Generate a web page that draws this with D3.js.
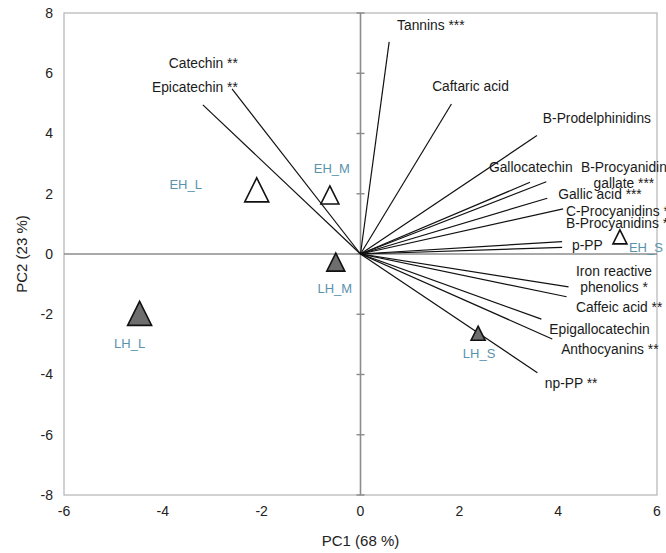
<!DOCTYPE html>
<html><head><meta charset="utf-8">
<script src="https://cdn.jsdelivr.net/npm/d3@7"></script>
<style>body{margin:0;background:#fff}svg{display:block}text{font-family:"Liberation Sans",Arial,sans-serif}</style>
</head><body><svg id="c" width="666" height="553"></svg>
<script>
// Variable loadings (PC1, PC2)
const varNames = ["Catechin **","Epicatechin **","Tannins ***","Caftaric acid","B-Prodelphinidins","Gallocatechin","B-Procyanidin gallate ***","Gallic acid ***","C-Procyanidins *","B-Procyanidins *","p-PP","Iron reactive phenolics *","Caffeic acid **","Epigallocatechin","Anthocyanins **","np-PP **"];
const varPC1 = [-2.60,-3.19,0.58,1.84,3.57,3.43,3.76,3.78,4.10,4.08,4.08,4.21,4.17,3.66,3.88,3.58];
const varPC2 = [5.48,4.95,7.04,4.98,3.93,2.38,2.40,1.85,1.50,0.41,0.22,-1.09,-1.42,-2.16,-2.82,-3.94];
// Sample scores
const sampleNames = ["EH_L","EH_M","EH_S","LH_L","LH_M","LH_S"];
const samplePC1 = [-2.10,-0.62,5.25,-4.47,-0.50,2.38];
const samplePC2 = [2.13,1.96,0.57,-1.97,-0.27,-2.63];
const xTicks = [-6,-4,-2,0,2,4,6];
const yTicks = [-8,-6,-4,-2,0,2,4,6,8];

// layout (label placement, in data units)
const varLabelLines = [["Catechin **"],["Epicatechin **"],["Tannins ***"],["Caftaric acid"],["B-Prodelphinidins"],["Gallocatechin"],["B-Procyanidin","gallate ***"],["Gallic acid ***"],["C-Procyanidins *"],["B-Procyanidins *"],["p-PP"],["Iron reactive","phenolics *"],["Caffeic acid **"],["Epigallocatechin"],["Anthocyanins **"],["np-PP **"]];
const varLabelPos = [[-3.88,6.35,"start"],[-4.22,5.55,"start"],[0.74,7.61,"start"],[1.45,5.58,"start"],[3.69,4.52,"start"],[2.60,2.89,"start"],[5.33,2.89,"middle"],[4.00,1.99,"start"],[4.16,1.42,"start"],[4.16,1.01,"start"],[4.28,0.30,"start"],[5.13,-0.56,"middle"],[4.36,-1.76,"start"],[3.82,-2.49,"start"],[4.06,-3.16,"start"],[3.73,-4.29,"start"]];
const sampleLabelOffset = {EH_L:[-71,-5],EH_M:[2,-27],EH_S:[26,11],LH_L:[-10,30],LH_M:[-1,26],LH_S:[1,20]};
const sizeBySuffix = {L:24,M:18,S:14};

const svg = d3.select("#c");
const m = {l:64, r:9, t:13, b:58};
const W = 666, H = 553;
const x = d3.scaleLinear().domain([-6,6]).range([m.l, W-m.r]);
const y = d3.scaleLinear().domain([-8,8]).range([H-m.b, m.t]);

// border
svg.append("rect").attr("x",x(-6)).attr("y",y(8)).attr("width",x(6)-x(-6)).attr("height",y(-8)-y(8))
  .attr("fill","none").attr("stroke","#b4b4b4").attr("stroke-width",1.2);

// zero axes
svg.append("line").attr("x1",x(-6)).attr("x2",x(6)).attr("y1",y(0)).attr("y2",y(0)).attr("stroke","#8c8c8c").attr("stroke-width",1.6);
svg.append("line").attr("x1",x(0)).attr("x2",x(0)).attr("y1",y(-8)).attr("y2",y(8)).attr("stroke","#8c8c8c").attr("stroke-width",1.6);
svg.selectAll(".yt").data(yTicks).enter().append("line")
  .attr("x1",x(0)-4).attr("x2",x(0)+4).attr("y1",d=>y(d)).attr("y2",d=>y(d)).attr("stroke","#8c8c8c").attr("stroke-width",1.4);

// tick labels
svg.selectAll(".ytl").data(yTicks).enter().append("text")
  .attr("x",m.l-11).attr("y",d=>y(d)).attr("dy","0.35em").attr("text-anchor","end")
  .attr("font-size",14).attr("fill","#222").text(d=>d);
svg.selectAll(".xtl").data(xTicks).enter().append("text")
  .attr("x",d=>x(d)).attr("y",H-m.b+21).attr("text-anchor","middle")
  .attr("font-size",14).attr("fill","#222").text(d=>d);
svg.append("text").attr("x",x(0)).attr("y",546).attr("text-anchor","middle").attr("font-size",15).attr("fill","#222").text("PC1 (68 %)");
svg.append("text").attr("transform",`translate(27,${y(0)}) rotate(-90)`).attr("text-anchor","middle").attr("font-size",15).attr("fill","#222").text("PC2 (23 %)");

// vectors
svg.selectAll(".vec").data(varNames).enter().append("line")
  .attr("x1",x(0)).attr("y1",y(0)).attr("x2",(d,i)=>x(varPC1[i])).attr("y2",(d,i)=>y(varPC2[i]))
  .attr("stroke","#111").attr("stroke-width",1.2);

// variable labels
varNames.forEach((n,i)=>{
  const p = varLabelPos[i];
  const t = svg.append("text").attr("x",x(p[0])).attr("y",y(p[1]))
    .attr("text-anchor",p[2]).attr("font-size",13.8).attr("fill","#1a1a1a");
  varLabelLines[i].forEach((ln,j)=>{
    t.append("tspan").attr("x",x(p[0])).attr("dy", j===0 ? "0.35em" : "1.15em").text(ln);
  });
});

// samples
sampleNames.forEach((n,i)=>{
  const s = sizeBySuffix[n.split("_")[1]];
  const cx = x(samplePC1[i]), cy = y(samplePC2[i]);
  const path = `M${cx},${cy-s/2}L${cx+s/2},${cy+s/2}L${cx-s/2},${cy+s/2}Z`;
  svg.append("path").attr("d",path)
    .attr("fill", n.startsWith("LH") ? "#6e6e6e" : "#fff")
    .attr("stroke","#111").attr("stroke-width",1.6).attr("stroke-linejoin","miter");
  const o = sampleLabelOffset[n];
  svg.append("text").attr("x",cx+o[0]).attr("y",cy+o[1]).attr("dy","0.35em").attr("text-anchor","middle")
    .attr("font-size",13).attr("fill","#5a93ad").text(n);
});
</script></body></html>
